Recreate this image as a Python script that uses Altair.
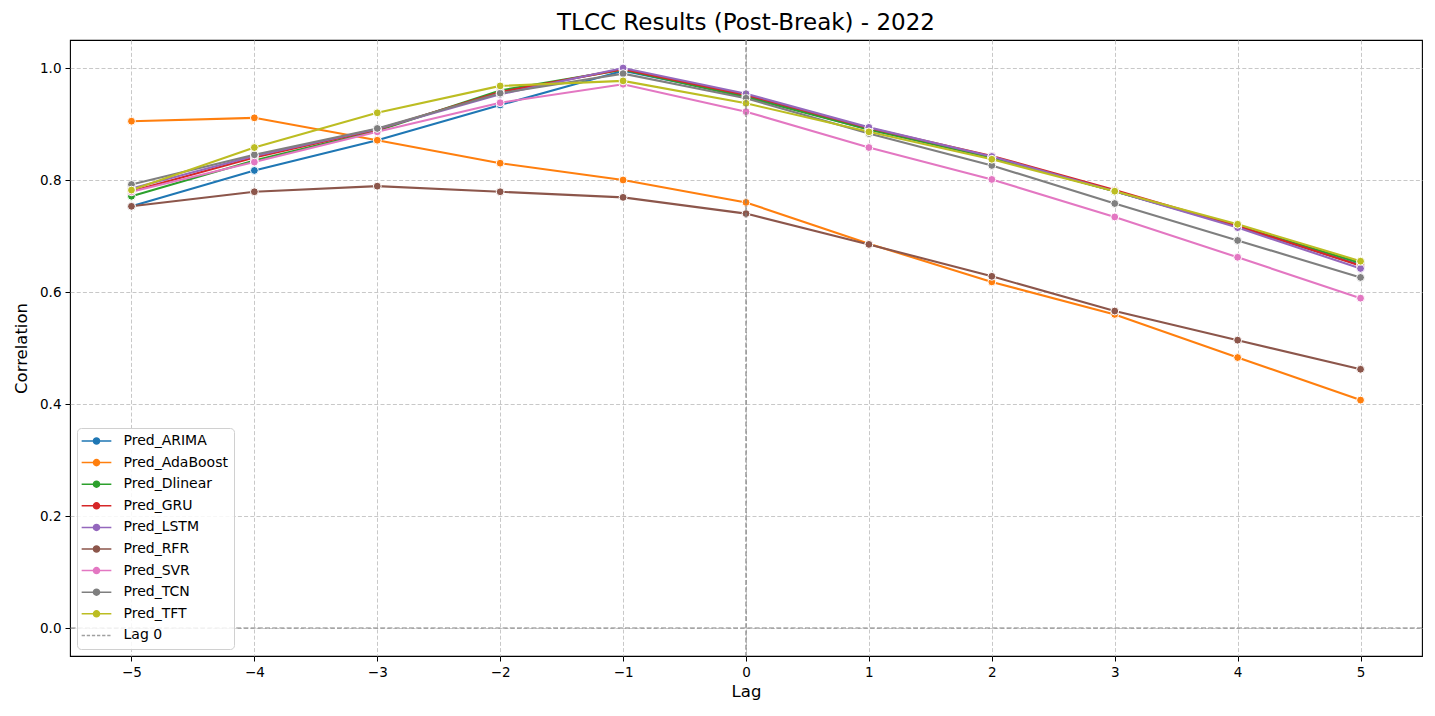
import altair as alt
import pandas as pd

lags = [-5, -4, -3, -2, -1, 0, 1, 2, 3, 4, 5]
series_names = ["Pred_ARIMA", "Pred_AdaBoost", "Pred_Dlinear", "Pred_GRU", "Pred_LSTM",
                "Pred_RFR", "Pred_SVR", "Pred_TCN", "Pred_TFT"]
pred_arima = [0.753, 0.817, 0.871, 0.934, 0.995, 0.950, 0.890, 0.840, 0.780, 0.717, 0.648]
pred_adaboost = [0.905, 0.911, 0.871, 0.830, 0.800, 0.760, 0.686, 0.618, 0.560, 0.483, 0.407]
pred_dlinear = [0.771, 0.835, 0.888, 0.960, 0.997, 0.948, 0.890, 0.840, 0.780, 0.718, 0.652]
pred_gru = [0.780, 0.840, 0.890, 0.957, 0.998, 0.952, 0.893, 0.843, 0.782, 0.718, 0.647]
pred_lstm = [0.785, 0.843, 0.891, 0.953, 1.000, 0.954, 0.894, 0.842, 0.780, 0.715, 0.642]
pred_rfr = [0.753, 0.779, 0.789, 0.779, 0.769, 0.740, 0.685, 0.628, 0.566, 0.514, 0.462]
pred_svr = [0.779, 0.832, 0.886, 0.938, 0.971, 0.922, 0.858, 0.801, 0.734, 0.662, 0.589]
pred_tcn = [0.792, 0.845, 0.892, 0.955, 0.990, 0.946, 0.883, 0.826, 0.758, 0.692, 0.626]
pred_tft = [0.782, 0.858, 0.920, 0.968, 0.977, 0.937, 0.886, 0.837, 0.780, 0.721, 0.655]
all_values = [pred_arima, pred_adaboost, pred_dlinear, pred_gru, pred_lstm,
              pred_rfr, pred_svr, pred_tcn, pred_tft]
series_colors = ["#1f77b4", "#ff7f0e", "#2ca02c", "#d62728", "#9467bd",
                 "#8c564b", "#e377c2", "#7f7f7f", "#bcbd22"]
ref_label = "Lag 0"
ref_color = "#808080"
ref_lag = 0
ref_corr = 0.0
x_ticks = [-5, -4, -3, -2, -1, 0, 1, 2, 3, 4, 5]
y_ticks = [0.0, 0.2, 0.4, 0.6, 0.8, 1.0]

rows = []
for name, vals in zip(series_names, all_values):
    for lag, v in zip(lags, vals):
        rows.append({"Lag": lag, "Correlation": v, "series": name})
df = pd.DataFrame(rows)

FONT = "DejaVu Sans"

# legend symbol shapes (custom SVG paths in symbol units)
marker_path = "M-2.7,0H2.7M0.55,0A0.55,0.55,0,1,1,-0.55,0A0.55,0.55,0,1,1,0.55,0Z"
dash_parts = []
s = -2.7
while s < 2.7:
    e = min(s + 0.6, 2.7)
    dash_parts.append(f"M{s:.2f},0H{e:.2f}")
    s += 0.93
dash_path = "".join(dash_parts)

legend_domain = series_names + [ref_label]
legend = alt.Legend(
    title=None,
    orient="bottom-left",
    offset=7,
    fillColor="rgba(255,255,255,0.85)",
    strokeColor="#d0d0d0",
    cornerRadius=4,
    padding=6,
    labelFont=FONT,
    labelFontSize=14,
    labelColor="#000000",
    labelOffset=20,
    symbolSize=121,
    symbolOffset=6.5,
    symbolStrokeWidth=1.5,
    rowPadding=7.6,
    symbolOpacity=1,
)

color_scale = alt.Scale(domain=series_names, range=series_colors)
color_enc = alt.Color("series:N", scale=color_scale, legend=None)

x_enc = alt.X("Lag:Q", scale=alt.Scale(domain=[-5.5, 5.5], nice=False, zero=False),
              axis=alt.Axis(values=x_ticks, title="Lag",
                            labelExpr="datum.value < 0 ? '\u2212' + abs(datum.value) : '' + datum.value"))
y_enc = alt.Y("Correlation:Q", scale=alt.Scale(domain=[-0.05, 1.05], nice=False, zero=False),
              axis=alt.Axis(values=y_ticks, format=".1f", title="Correlation"))

base = alt.Chart(df)
lines = base.mark_line(strokeWidth=2.1).encode(x=x_enc, y=y_enc, color=color_enc)
points = base.mark_point(filled=True, size=62, stroke="white", strokeWidth=1, opacity=1).encode(
    x=x_enc, y=y_enc, color=color_enc)

vdf = pd.DataFrame({"Lag": [ref_lag]})
hdf = pd.DataFrame({"Correlation": [ref_corr]})
vrule = alt.Chart(vdf).mark_rule(strokeDash=[5, 2.2], strokeWidth=1.2, color=ref_color).encode(
    x=alt.X("Lag:Q"))
hrule = alt.Chart(hdf).mark_rule(strokeDash=[5, 2.2], strokeWidth=1.2, color=ref_color).encode(
    y=alt.Y("Correlation:Q"))

# legend-only layer (no rows, the legend is drawn from the explicit scale domains)
ldf = pd.DataFrame({"entry": pd.Series([], dtype=str)})
legend_layer = alt.Chart(ldf).mark_point(opacity=1).encode(
    fill=alt.Fill("entry:N", scale=alt.Scale(domain=legend_domain, range=series_colors + [ref_color]),
                  legend=legend),
    stroke=alt.Stroke("entry:N", scale=alt.Scale(domain=legend_domain, range=series_colors + ["#a0a0a0"]),
                      legend=legend),
    shape=alt.Shape("entry:N", scale=alt.Scale(domain=legend_domain,
                                               range=[marker_path] * len(series_names) + [dash_path]),
                    legend=legend),
)

chart = alt.layer(lines, points, vrule, hrule, legend_layer).properties(
    width=1352,
    height=616,
    title=alt.TitleParams("TLCC Results (Post-Break) - 2022", anchor="middle",
                          font=FONT, fontSize=23, fontWeight="normal", color="#000000", offset=4),
    autosize=alt.AutoSizeParams(type="none"),
    padding={"left": 62, "top": 32, "right": 5, "bottom": 52},
).resolve_scale(
    fill="independent", stroke="independent", shape="independent"
).configure_view(
    stroke="#000000", strokeWidth=1.1
).configure_axis(
    grid=True,
    gridColor="#c8c8c8",
    gridDash=[4, 2.2],
    gridWidth=1,
    domain=False,
    tickColor="#000000",
    tickSize=5,
    tickWidth=1,
    labelFont=FONT,
    labelFontSize=13.5,
    labelColor="#000000",
    labelPadding=4,
    titleFont=FONT,
    titleFontSize=16.5,
    titleFontWeight="normal",
    titleColor="#000000",
).configure_axisX(titlePadding=5, labelAngle=0).configure_axisY(titlePadding=10)

chart.save("out.html", embed_options={"renderer": "svg", "actions": False})
